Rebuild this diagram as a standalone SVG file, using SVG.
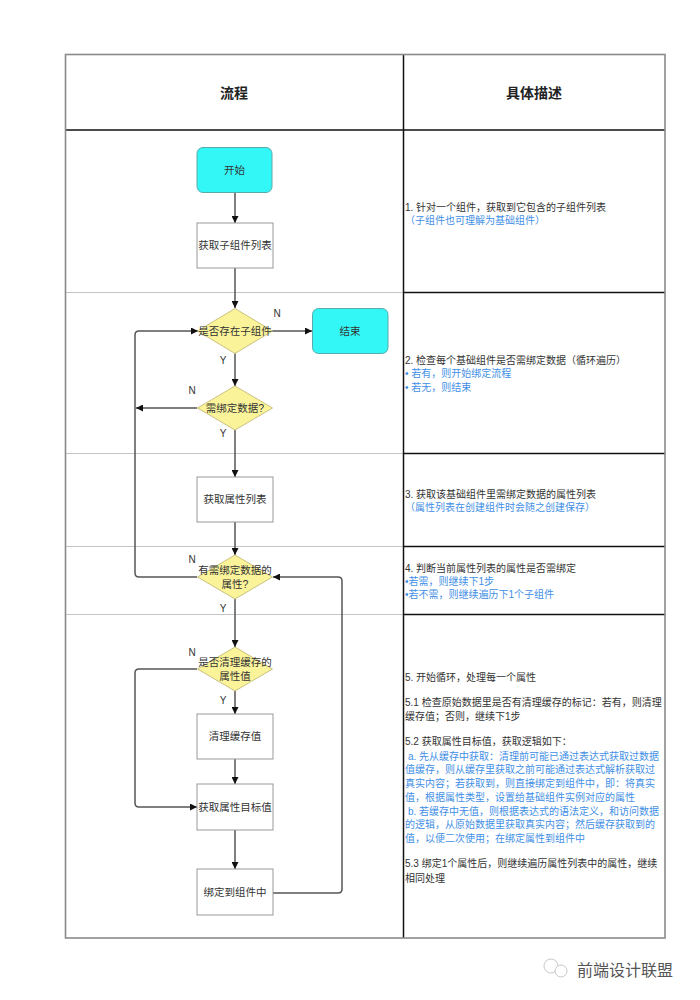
<svg xmlns="http://www.w3.org/2000/svg" width="700" height="1000" viewBox="0 0 700 1000">
<defs>
<marker id="ah" viewBox="0 0 8 8" markerWidth="7" markerHeight="7" refX="8" refY="4" orient="auto" markerUnits="userSpaceOnUse">
<path d="M0,0 L8,4 L0,8 z" fill="#111"/>
</marker>
<style>
.cjk{font-family:"Liberation Sans","Noto Sans CJK SC",sans-serif;}
.hd{font-size:14px;font-weight:bold;fill:#222;text-anchor:middle;}
.nt{font-size:10.5px;fill:#333;text-anchor:middle;}
.lb{font-size:10px;fill:#333;text-anchor:middle;}
.dt{font-size:10px;fill:#333;}
.bl{font-size:10px;fill:#3f8fe6;}
.term{fill:#33f7f7;stroke:#5aaaaa;stroke-width:1;}
.proc{fill:#fff;stroke:#999;stroke-width:1;}
.dec{fill:#fbf39a;stroke:#c9c27e;stroke-width:1;}
.con{fill:none;stroke:#555;stroke-width:1.5;}
.arr{marker-end:url(#ah);}
.gl{stroke:#c4c4c4;stroke-width:1.2;}
.bk{stroke:#111;stroke-width:1.5;}
</style>
</defs>
<rect width="700" height="1000" fill="#fff"/>

<g id="table">
<line class="gl" x1="65" y1="292.5" x2="403" y2="292.5"/>
<line class="gl" x1="65" y1="453.5" x2="403" y2="453.5"/>
<line class="gl" x1="65" y1="546.5" x2="403" y2="546.5"/>
<line class="gl" x1="65" y1="614.5" x2="403" y2="614.5"/>
<line class="bk" x1="403" y1="292.5" x2="665" y2="292.5"/>
<line class="bk" x1="403" y1="453.5" x2="665" y2="453.5"/>
<line class="bk" x1="403" y1="546.5" x2="665" y2="546.5"/>
<line class="bk" x1="403" y1="614.5" x2="665" y2="614.5"/>
<line class="bk" x1="65" y1="130" x2="665" y2="130"/>
<line class="bk" x1="403.5" y1="54" x2="403.5" y2="938"/>
<rect x="65.5" y="54.5" width="599.5" height="883.5" fill="none" stroke="#8a8a8a" stroke-width="1.6"/>
<text class="cjk hd" x="234" y="98">流程</text>
<text class="cjk hd" x="534" y="98">具体描述</text>
</g>

<g id="connectors">
<line class="con arr" x1="235" y1="192" x2="235" y2="223"/>
<line class="con arr" x1="235" y1="268" x2="235" y2="308"/>
<line class="con arr" x1="272" y1="331" x2="312" y2="331"/>
<line class="con arr" x1="235" y1="353" x2="235" y2="386"/>
<line class="con arr" x1="197" y1="408" x2="136" y2="408"/>
<line class="con arr" x1="235" y1="430" x2="235" y2="477"/>
<line class="con arr" x1="235" y1="522" x2="235" y2="555"/>
<path class="con arr" d="M197,577 H139 Q135,577 135,573 V335 Q135,331 139,331 H198"/>
<line class="con arr" x1="235" y1="599" x2="235" y2="647"/>
<line class="con arr" x1="235" y1="691" x2="235" y2="714"/>
<path class="con arr" d="M197,669 H139 Q135,669 135,673 V803 Q135,807 139,807 H197"/>
<line class="con arr" x1="235" y1="759" x2="235" y2="784"/>
<line class="con arr" x1="235" y1="830" x2="235" y2="869"/>
<path class="con arr" d="M273,893 H338 Q342,893 342,889 V581 Q342,577 338,577 H273"/>
<text class="cjk lb" x="277" y="317">N</text>
<text class="cjk lb" x="223" y="364">Y</text>
<text class="cjk lb" x="192" y="394">N</text>
<text class="cjk lb" x="223" y="437">Y</text>
<text class="cjk lb" x="192" y="563">N</text>
<text class="cjk lb" x="223" y="612">Y</text>
<text class="cjk lb" x="192" y="656">N</text>
<text class="cjk lb" x="223" y="704">Y</text>
</g>

<g id="n-start">
<rect class="term" x="197" y="147.5" width="75" height="45" rx="6"/>
<text class="cjk nt" x="234.5" y="174">开始</text>
</g>
<g id="n-getchildren">
<rect class="proc" x="197" y="223" width="76" height="45"/>
<text class="cjk nt" x="235" y="249">获取子组件列表</text>
</g>
<g id="n-haschild">
<polygon class="dec" points="235,308.5 272.5,331 235,353.5 197.5,331"/>
<text class="cjk nt" x="235" y="335">是否存在子组件</text>
</g>
<g id="n-end">
<rect class="term" x="312.5" y="308.5" width="75.5" height="45" rx="6"/>
<text class="cjk nt" x="350" y="335">结束</text>
</g>
<g id="n-needbind">
<polygon class="dec" points="235,386 272.5,408 235,430 197.5,408"/>
<text class="cjk nt" x="235" y="412">需绑定数据?</text>
</g>
<g id="n-getattrs">
<rect class="proc" x="197" y="477" width="76" height="45"/>
<text class="cjk nt" x="235" y="503">获取属性列表</text>
</g>
<g id="n-hasattr">
<polygon class="dec" points="235,555 272.5,577 235,599 197.5,577"/>
<text class="cjk nt" x="235" y="574">有需绑定数据的</text>
<text class="cjk nt" x="235" y="588">属性?</text>
</g>
<g id="n-clearq">
<polygon class="dec" points="235,647 272.5,669 235,691 197.5,669"/>
<text class="cjk nt" x="235" y="666">是否清理缓存的</text>
<text class="cjk nt" x="235" y="680">属性值</text>
</g>
<g id="n-clear">
<rect class="proc" x="197" y="714" width="76" height="45"/>
<text class="cjk nt" x="235" y="740">清理缓存值</text>
</g>
<g id="n-gettarget">
<rect class="proc" x="197" y="784" width="76" height="46"/>
<text class="cjk nt" x="235" y="811">获取属性目标值</text>
</g>
<g id="n-bind">
<rect class="proc" x="197" y="869" width="76" height="46"/>
<text class="cjk nt" x="235" y="896">绑定到组件中</text>
</g>

<g id="desc">
<text class="cjk dt" x="405" y="211">1. 针对一个组件，获取到它包含的子组件列表</text>
<text class="cjk bl" x="405" y="224">（子组件也可理解为基础组件）</text>

<text class="cjk dt" x="405" y="364">2. 检查每个基础组件是否需绑定数据（循环遍历）</text>
<text class="cjk bl" x="405" y="377">• 若有，则开始绑定流程</text>
<text class="cjk bl" x="405" y="391">• 若无，则结束</text>

<text class="cjk dt" x="405" y="498">3. 获取该基础组件里需绑定数据的属性列表</text>
<text class="cjk bl" x="405" y="511">（属性列表在创建组件时会随之创建保存）</text>

<text class="cjk dt" x="405" y="572">4. 判断当前属性列表的属性是否需绑定</text>
<text class="cjk bl" x="405" y="585">•若需，则继续下1步</text>
<text class="cjk bl" x="405" y="598">•若不需，则继续遍历下1个子组件</text>

<text class="cjk dt" x="405" y="681">5. 开始循环，处理每一个属性</text>
<text class="cjk dt" x="405" y="706">5.1 检查原始数据里是否有清理缓存的标记：若有，则清理</text>
<text class="cjk dt" x="405" y="720">缓存值；否则，继续下1步</text>
<text class="cjk dt" x="405" y="745">5.2 获取属性目标值，获取逻辑如下：</text>
<text class="cjk bl" x="408" y="760">a. 先从缓存中获取：清理前可能已通过表达式获取过数据</text>
<text class="cjk bl" x="405" y="773">值缓存，则从缓存里获取之前可能通过表达式解析获取过</text>
<text class="cjk bl" x="405" y="787">真实内容；若获取到，则直接绑定到组件中，即：将真实</text>
<text class="cjk bl" x="405" y="801">值，根据属性类型，设置给基础组件实例对应的属性</text>
<text class="cjk bl" x="408" y="815">b. 若缓存中无值，则根据表达式的语法定义，和访问数据</text>
<text class="cjk bl" x="405" y="828">的逻辑，从原始数据里获取真实内容；然后缓存获取到的</text>
<text class="cjk bl" x="405" y="842">值，以便二次使用；在绑定属性到组件中</text>
<text class="cjk dt" x="405" y="867">5.3 绑定1个属性后，则继续遍历属性列表中的属性，继续</text>
<text class="cjk dt" x="405" y="882">相同处理</text>
</g>

<g id="watermark">
<circle cx="551" cy="966" r="7" fill="none" stroke="#c8c8c8" stroke-width="1"/>
<circle cx="561" cy="971" r="6" fill="#fff" stroke="#c8c8c8" stroke-width="1"/>
<text x="577" y="976" font-family="'Noto Sans CJK SC',sans-serif" font-size="16" fill="#555">前端设计联盟</text>
</g>
</svg>
